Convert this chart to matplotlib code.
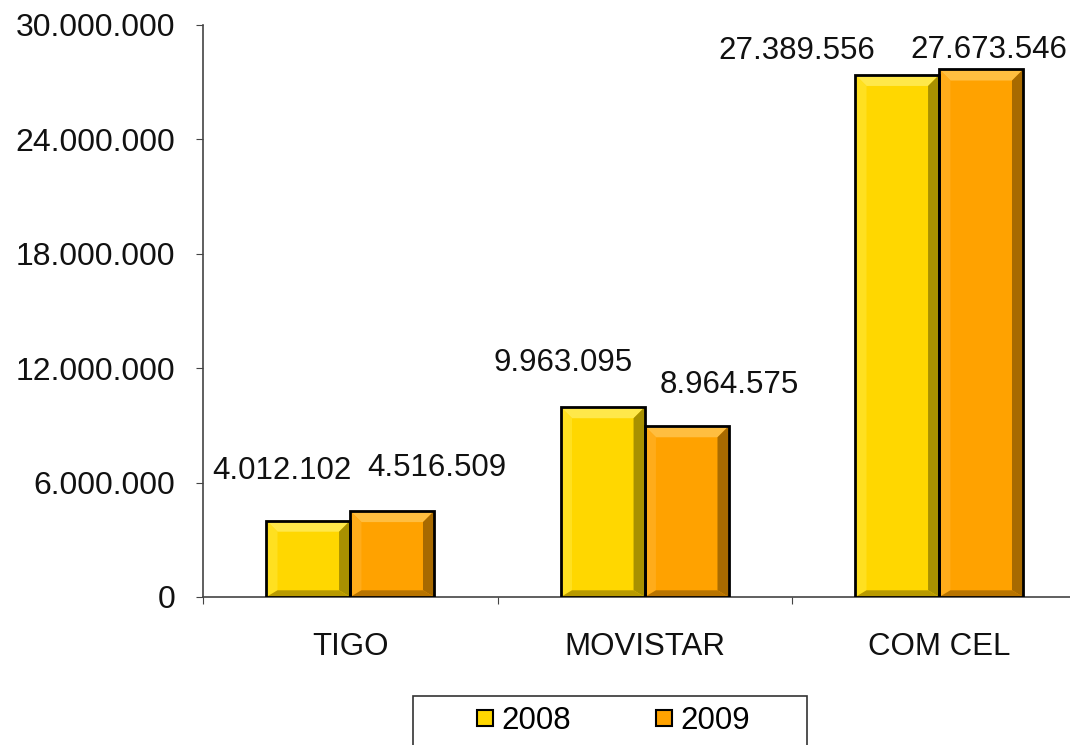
import matplotlib.pyplot as plt
from matplotlib.patches import Rectangle
import numpy as np

plt.rcParams['font.family'] = ['Liberation Sans', 'DejaVu Sans']

# datos
categorias = ['TIGO', 'MOVISTAR', 'COM CEL']
anios = ['2008', '2009']
v2008 = [4012102, 9963095, 27389556]
v2009 = [4516509, 8964575, 27673546]
yticks = [0, 6000000, 12000000, 18000000, 24000000, 30000000]

# estilo
colores = {'2008': ('#FFD700', '#FFE84A', '#FFE020', '#A89000', '#B89A00'),
           '2009': ('#FFA200', '#FFBE40', '#FFAC1A', '#A86A00', '#B87400')}
# desplazamiento de las etiquetas (pixeles) respecto al centro superior de la barra
offs = {'2008': [(-26, 50), (-40, 44), (-101, 24)],
        '2009': [(45, 43), (43, 41), (8, 19)]}

def fmt(v):
    return f'{v:,}'.replace(',', '.')

fig = plt.figure(figsize=(10.7, 7.45), dpi=100)
ax = fig.add_axes([203/1070, 1-597/745, 883.5/1070, 572/745])

x = np.arange(len(categorias)) + 0.5
w = 0.285
dx = 0.038
dy = dx * 294.5 / 572 * 30000000

for serie, vals, sgn in [('2008', v2008, -1), ('2009', v2009, 1)]:
    base, top, left, right, bottom = colores[serie]
    xs = x + sgn * w / 2
    bars = ax.bar(xs, vals, w, color=base, edgecolor='none', zorder=2)
    for b, v, (ox, oy) in zip(bars, vals, offs[serie]):
        x0 = b.get_x()
        x1 = x0 + b.get_width()
        y1 = b.get_height()
        ax.fill([x0, x1, x1 - dx, x0 + dx], [y1, y1, y1 - dy, y1 - dy], color=top, lw=0, zorder=3)
        ax.fill([x0, x0, x0 + dx, x0 + dx], [0, y1, y1 - dy, dy * 0.6], color=left, lw=0, zorder=3)
        ax.fill([x1, x1, x1 - dx, x1 - dx], [0, y1, y1 - dy, dy * 0.6], color=right, lw=0, zorder=3)
        ax.fill([x0, x1, x1 - dx, x0 + dx], [0, 0, dy * 0.6, dy * 0.6], color=bottom, lw=0, zorder=3)
        ax.add_patch(Rectangle((x0, 0), x1 - x0, y1, fill=False, edgecolor='black', lw=2, zorder=4))
        ax.annotate(fmt(v), (b.get_x() + b.get_width() / 2, y1), xytext=(ox, oy),
                    textcoords='offset pixels', ha='center', va='center',
                    fontsize=22.5, color='#111111', zorder=5, annotation_clip=False)

ax.set_xlim(0, 3)
ax.set_ylim(0, 30000000)
ax.set_yticks(yticks)
ax.set_yticklabels([fmt(t) for t in yticks])
ax.set_xticks([0, 1, 2, 3])
ax.set_xticklabels([])
ax.set_xticks(x, minor=True)
ax.set_xticklabels(categorias, minor=True)
ax.tick_params(axis='x', which='major', length=5, direction='out', color='#444444')
ax.tick_params(axis='x', which='minor', length=0, pad=25, labelsize=22.5, labelcolor='#111111')
ax.tick_params(axis='y', length=5, direction='out', pad=15, labelsize=23,
               color='#444444', labelcolor='#111111')
for s in ['top', 'right']:
    ax.spines[s].set_visible(False)
for s in ['left', 'bottom']:
    ax.spines[s].set_color('#444444')
    ax.spines[s].set_linewidth(1.2)

# leyenda
fig.patches.append(Rectangle((413/1070, -0.05), 394/1070, 0.05 + 1 - 696/745, fill=False,
                             edgecolor='#333333', lw=1.2, transform=fig.transFigure, figure=fig))
handles = [plt.Line2D([], [], ls='none', marker='s', markersize=12,
                      markerfacecolor=colores[a][0], markeredgecolor='black', markeredgewidth=1.5)
           for a in anios]
fig.legend(handles, anios, loc='center', bbox_to_anchor=(612/1070, 1 - 721/745), ncol=2,
           frameon=False, fontsize=22.5, handlelength=0.7, handletextpad=0.2, columnspacing=2.6,
           borderpad=0)

fig.savefig('out.png', dpi=100)
